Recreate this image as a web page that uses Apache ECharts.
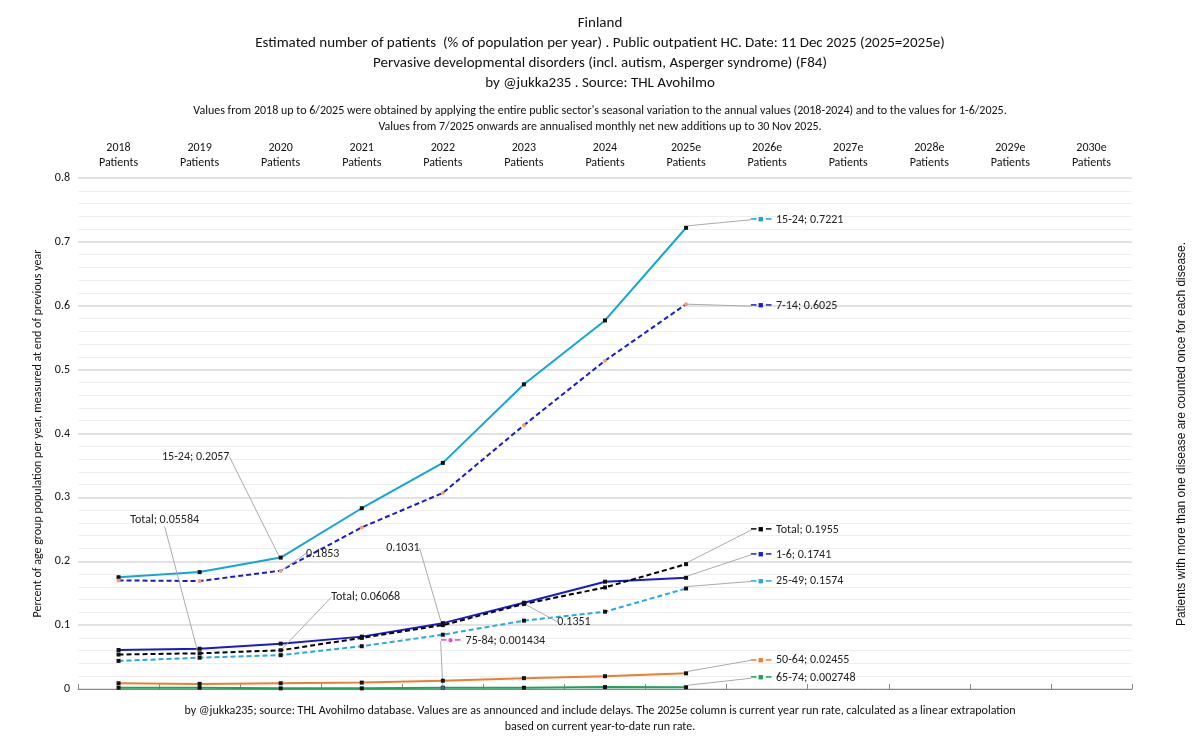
<!DOCTYPE html>
<html><head><meta charset="utf-8">
<script src="https://cdn.jsdelivr.net/npm/echarts@6/dist/echarts.min.js"></script>
<style>html,body{margin:0;padding:0;background:#fff}#c{width:1200px;height:738px}</style>
</head><body><div id="c"></div>
<script>
const categories = ['2018\nPatients','2019\nPatients','2020\nPatients','2021\nPatients','2022\nPatients','2023\nPatients','2024\nPatients','2025e\nPatients','2026e\nPatients','2027e\nPatients','2028e\nPatients','2029e\nPatients','2030e\nPatients'];
const s15_24 = [0.175,0.183,0.2057,0.283,0.354,0.477,0.577,0.7221];
const s7_14 = [0.170,0.169,0.1853,0.253,0.307,0.413,0.514,0.6025];
const s1_6 = [0.061,0.063,0.071,0.082,0.1031,0.1351,0.168,0.1741];
const sTotal = [0.054,0.05584,0.06068,0.080,0.100,0.133,0.159,0.1955];
const s25_49 = [0.044,0.049,0.053,0.067,0.085,0.107,0.121,0.1574];
const s50_64 = [0.009,0.008,0.009,0.010,0.013,0.017,0.020,0.02455];
const s65_74 = [0.002,0.002,0.001,0.001,0.002,0.002,0.003,0.002748];
const s75_84 = [null,null,null,null,0.001434,null,null,null];

// label annotations: [seriesName, dataIndex, text, dx, dy, withSymbol]
const notes = [
 ['15-24',2,'15-24; 0.2057',-85,-88,false],
 ['7-14',2,'0.1853',42,-4,false],
 ['Total',1,'Total; 0.05584',-35,-120,false],
 ['Total',2,'Total; 0.06068',85,-40,false],
 ['1-6',4,'0.1031',-40,-62,false],
 ['1-6',5,'0.1351',50,32,false],
 ['75-84',4,'75-84; 0.001434',50,-34,true]
];
const endDy = {'15-24':-8,'7-14':2,'Total':-34,'1-6':-23,'25-49':-7,'50-64':-13,'65-74':-9};

const defs = [
 ['15-24',s15_24,'#12a5d8','solid','rect'],
 ['7-14',s7_14,'#1a1acc','dashed','circle'],
 ['1-6',s1_6,'#1a1acc','solid','rect'],
 ['Total',sTotal,'#000000','dashed','rect'],
 ['25-49',s25_49,'#27a9e0','dashed','rect'],
 ['50-64',s50_64,'#ed7d31','solid','rect'],
 ['65-74',s65_74,'#1fa35a','solid','rect'],
 ['75-84',s75_84,'#ee44cc','dashed','circle']
];
const markerColor = {'7-14':'#f0a070','75-84':'#4a5aa8'};

const series = defs.map(([name,vals,color,type,sym])=>{
  const last = vals.length-1;
  const rich = {m:{color:color,fontSize:9}};
  const data = vals.map((v,i)=>{
    const item = {value:v};
    const n = notes.find(x=>x[0]===name && x[1]===i);
    if(n){ item.label={show:true,position:'top',rich,
      formatter:n[5]?'{m|━ ● ━}  '+n[2]:n[2]}; }
    else if(i===last && name!=='75-84'){
      item.label={show:true,position:'right',rich,
        formatter:'{m|━ ■ ━}  '+name+'; '+v};
    }
    return item;
  });
  return {
    name, type:'line', data, connectNulls:false,
    symbol:sym, symbolSize:4,
    itemStyle:{color:markerColor[name]||'#111',borderWidth:0},
    lineStyle:{color,width:2,type:type==='dashed'?[5,3]:'solid'},
    label:{show:false,color:'#222',fontSize:12,fontFamily:'Calibri, Carlito, "Liberation Sans", sans-serif'},
    labelLine:{show:true,lineStyle:{color:'#aaa',width:1}},
    labelLayout:(p)=>{
      const n = notes.find(x=>x[0]===name && x[1]===p.dataIndex);
      if(n) return {dx:n[3],dy:n[4]};
      if(p.dataIndex===last) return {dx:58,dy:endDy[name]||0};
      return {};
    }
  };
});

const chart = echarts.init(document.getElementById('c'));
chart.setOption({
  animation:false,
  textStyle:{fontFamily:'Calibri, Carlito, "Liberation Sans", sans-serif'},
  title:[
    {text:'Finland\nEstimated number of patients  (% of population per year) . Public outpatient HC. Date: 11 Dec 2025 (2025=2025e)\nPervasive developmental disorders (incl. autism, Asperger syndrome) (F84)\nby @jukka235 . Source: THL Avohilmo',
     left:'center',top:8,textStyle:{fontSize:15,fontWeight:'normal',color:'#111',lineHeight:20}},
    {text:"Values from 2018 up to 6/2025 were obtained by applying the entire public sector's seasonal variation to the annual values (2018-2024) and to the values for 1-6/2025.\nValues from 7/2025 onwards are annualised monthly net new additions up to 30 Nov 2025.",
     left:'center',top:98,textStyle:{fontSize:12,fontWeight:'normal',color:'#111',lineHeight:16,align:'center'}},
    {text:'by @jukka235; source: THL Avohilmo database. Values are as announced and include delays. The 2025e column is current year run rate, calculated as a linear extrapolation\nbased on current year-to-date run rate.',
     left:'center',top:698,textStyle:{fontSize:12,fontWeight:'normal',color:'#111',lineHeight:16,align:'center'}}
  ],
  graphic:[{type:'text',x:1182,y:434,rotation:Math.PI/2,
    style:{text:'Patients with more than one disease are counted once for each disease.',fontSize:12,fill:'#111',align:'center',verticalAlign:'middle'}}],
  grid:{left:78,right:68,top:178,bottom:49},
  xAxis:{type:'category',data:categories,position:'top',boundaryGap:true,
    axisLine:{lineStyle:{color:'#888'}},axisTick:{show:true,lineStyle:{color:'#888'}},
    axisLabel:{color:'#111',fontSize:12,lineHeight:15,interval:0}},
  yAxis:{type:'value',min:0,max:0.8,interval:0.1,
    name:'Percent of age group population per year, measured at end of previous year',
    nameLocation:'middle',nameRotate:90,nameGap:34,nameTextStyle:{fontSize:12,color:'#111'},
    axisLabel:{color:'#111',fontSize:12,formatter:v=>v===0?'0':String(+v.toFixed(1))},
    axisLine:{show:false},
    splitLine:{lineStyle:{color:'#d9d9d9',width:1.5}},
    minorTick:{show:false,splitNumber:5},
    minorSplitLine:{show:true,lineStyle:{color:'#efefef'}}},
  series
});
</script></body></html>
